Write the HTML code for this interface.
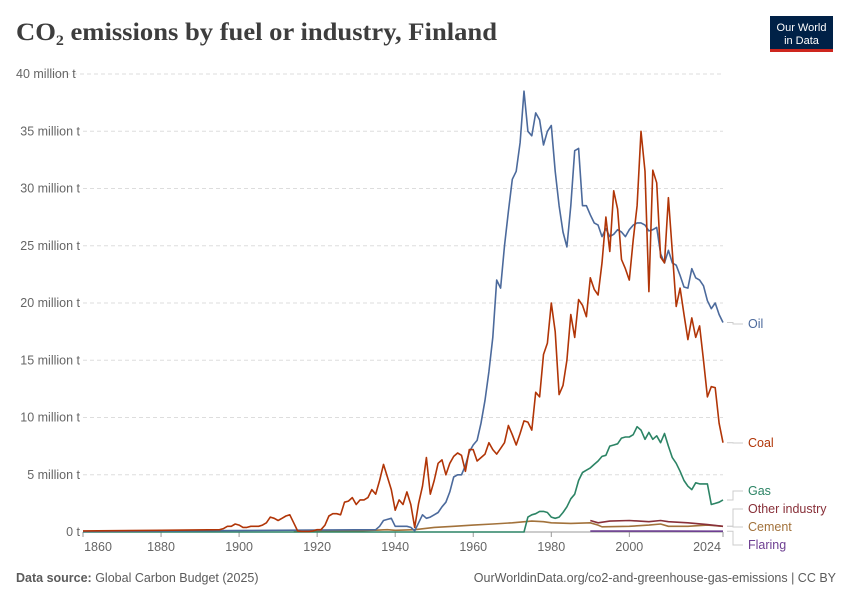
<!DOCTYPE html>
<html><head><meta charset="utf-8">
<style>
body{margin:0;background:#fff;width:850px;height:600px;overflow:hidden;font-family:"Liberation Sans",sans-serif;}
svg{display:block}
</style></head>
<body>
<svg id="chart" width="850" height="600">
<text x="16" y="40" font-family="Liberation Serif, serif" font-size="25" font-weight="bold" fill="#3d3d3d" textLength="481" lengthAdjust="spacingAndGlyphs">CO<tspan font-size="15" dy="5">2</tspan><tspan dy="-5"> emissions by fuel or industry, Finland</tspan></text>
<g>
<rect x="770" y="16" width="63" height="34" fill="#002147"/>
<rect x="770" y="49" width="63" height="3" fill="#ce261e"/>
<text x="801.5" y="31" text-anchor="middle" font-size="11" fill="#fff">Our World</text>
<text x="801.5" y="44" text-anchor="middle" font-size="11" fill="#fff">in Data</text>
</g>
<g id="grid"></g><g id="series"></g><g id="labels"></g>
<text x="16" y="582" font-size="12.5" fill="#5b5b5b"><tspan font-weight="bold">Data source:</tspan> Global Carbon Budget (2025)</text>
<text x="836" y="582" text-anchor="end" font-size="12.5" fill="#5b5b5b">OurWorldinData.org/co2-and-greenhouse-gas-emissions | CC BY</text>
</svg>
<script>
const yTicks=[0,5,10,15,20,25,30,35,40];
const yTickLabels=["0 t","5 million t","10 million t","15 million t","20 million t","25 million t","30 million t","35 million t","40 million t"];
const xTicks=[1860,1880,1900,1920,1940,1960,1980,2000,2024];
const oilYears=[1860,1935,1936,1937,1938,1939,1940,1941,1942,1943,1944,1945,1946,1947,1948,1949,1950,1951,1952,1953,1954,1955,1956,1957,1958,1959,1960,1961,1962,1963,1964,1965,1966,1967,1968,1969,1970,1971,1972,1973,1974,1975,1976,1977,1978,1979,1980,1981,1982,1983,1984,1985,1986,1987,1988,1989,1990,1991,1992,1993,1994,1995,1996,1997,1998,1999,2000,2001,2002,2003,2004,2005,2006,2007,2008,2009,2010,2011,2012,2013,2014,2015,2016,2017,2018,2019,2020,2021,2022,2023,2024];
const oilValues=[0.05,0.2,0.5,1.0,1.1,1.2,0.5,0.5,0.5,0.5,0.4,0.1,0.8,1.5,1.2,1.3,1.5,1.7,2.2,2.6,3.5,4.8,5.0,5.0,5.8,7.0,7.6,8.0,9.5,11.5,14,17,22,21.3,25,28,30.8,31.5,34,38.5,35,34.6,36.6,36,33.8,35,35.5,31.5,28.5,26.2,24.9,28.5,33.3,33.5,28.5,28.5,27.7,27,26.8,25.8,26.5,25.8,26.0,26.4,26.2,25.8,26.4,26.8,27.0,27.0,26.8,26.3,26.4,26.6,24.3,23.5,24.6,23.5,23.3,22.4,21.4,21.3,23.0,22.2,22.0,21.5,20.2,19.5,20.0,19.0,18.3];
const coalYears=[1860,1880,1895,1896,1897,1898,1899,1900,1901,1902,1903,1904,1905,1906,1907,1908,1909,1910,1911,1912,1913,1914,1915,1916,1917,1918,1919,1920,1921,1922,1923,1924,1925,1926,1927,1928,1929,1930,1931,1932,1933,1934,1935,1936,1937,1938,1939,1940,1941,1942,1943,1944,1945,1946,1947,1948,1949,1950,1951,1952,1953,1954,1955,1956,1957,1958,1959,1960,1961,1962,1963,1964,1965,1966,1967,1968,1969,1970,1971,1972,1973,1974,1975,1976,1977,1978,1979,1980,1981,1982,1983,1984,1985,1986,1987,1988,1989,1990,1991,1992,1993,1994,1995,1996,1997,1998,1999,2000,2001,2002,2003,2004,2005,2006,2007,2008,2009,2010,2011,2012,2013,2014,2015,2016,2017,2018,2019,2020,2021,2022,2023,2024];
const coalValues=[0.1,0.15,0.2,0.3,0.5,0.5,0.7,0.6,0.4,0.4,0.5,0.5,0.5,0.6,0.8,1.3,1.2,1.0,1.2,1.4,1.5,0.8,0.1,0.05,0.05,0.05,0.1,0.2,0.2,0.6,1.4,1.6,1.6,1.5,2.6,2.7,3.0,2.4,2.8,2.8,3.0,3.7,3.3,4.5,5.9,4.8,3.7,1.9,2.8,2.4,3.5,2.4,0.4,2.5,4.0,6.5,3.3,4.5,6.0,6.3,5.0,6.0,6.6,6.9,6.7,5.3,7.2,7.2,6.2,6.5,6.8,7.8,7.2,6.8,7.3,7.8,9.3,8.5,7.6,8.6,9.7,9.6,8.9,12.2,11.8,15.5,16.5,20.0,17.5,12.0,12.8,15.0,19.0,17.0,20.3,19.8,18.8,22.2,21.2,20.7,23.5,27.5,24.5,29.8,28.2,23.8,23.0,22.0,25.5,28.5,35.0,31.5,21.0,31.6,30.5,24.0,23.5,29.2,24.5,19.7,21.3,19.0,16.8,18.7,17.0,18.0,15.0,11.8,12.7,12.6,9.5,7.8];
const gasYears=[1860,1973,1974,1975,1976,1977,1978,1979,1980,1981,1982,1983,1984,1985,1986,1987,1988,1989,1990,1991,1992,1993,1994,1995,1996,1997,1998,1999,2000,2001,2002,2003,2004,2005,2006,2007,2008,2009,2010,2011,2012,2013,2014,2015,2016,2017,2018,2019,2020,2021,2022,2023,2024];
const gasValues=[0,0,1.3,1.5,1.6,1.8,1.8,1.7,1.3,1.2,1.3,1.7,2.2,2.9,3.3,4.5,5.2,5.4,5.6,5.9,6.2,6.6,6.7,7.5,7.6,7.7,8.2,8.3,8.3,8.5,9.2,8.9,8.1,8.7,8.1,8.4,7.8,8.6,7.5,6.5,6.0,5.3,4.5,4.0,3.7,4.3,4.2,4.2,4.2,2.4,2.5,2.6,2.8];
const cementYears=[1914,1920,1930,1938,1940,1945,1950,1955,1960,1965,1970,1975,1978,1980,1985,1990,1992,1993,2000,2005,2008,2010,2015,2020,2024];
const cementValues=[0.02,0.05,0.1,0.2,0.15,0.2,0.4,0.5,0.6,0.7,0.8,0.95,0.9,0.8,0.75,0.8,0.6,0.45,0.5,0.6,0.7,0.5,0.5,0.6,0.5];
const otherYears=[1990,1992,1995,2000,2005,2008,2010,2015,2020,2024];
const otherValues=[1.0,0.8,0.95,1.0,0.9,1.0,0.9,0.8,0.65,0.5];
const flaringYears=[1990,2000,2010,2020,2024];
const flaringValues=[0.08,0.08,0.08,0.07,0.07];
const x=y=>83+(y-1860)*(640/164);
const yS=v=>532-v*11.45;
const NS="http://www.w3.org/2000/svg";
const grid=document.getElementById('grid');
yTicks.forEach((t,i)=>{
  const l=document.createElementNS(NS,'line');
  
  
  l.setAttribute('x1',i==yTicks.length-1?52:83);l.setAttribute('x2',723);
  l.setAttribute('y1',yS(t));l.setAttribute('y2',yS(t));
  l.setAttribute('stroke',t==0?'#999':'#ddd');
  if(t!=0)l.setAttribute('stroke-dasharray','4,3');
  grid.appendChild(l);
  const tx=document.createElementNS(NS,'text');
  
  
  tx.setAttribute('x',t==40?16:80);tx.setAttribute('y',yS(t)+4);
  if(t!=40)tx.setAttribute('text-anchor','end');
  tx.setAttribute('font-size','12.5');tx.setAttribute('fill','#666');
  tx.textContent=yTickLabels[i];grid.appendChild(tx);
});
xTicks.forEach(t=>{
  const l=document.createElementNS(NS,'line');
  
  
  l.setAttribute('x1',x(t));l.setAttribute('x2',x(t));l.setAttribute('y1',532);l.setAttribute('y2',537);
  l.setAttribute('stroke','#999');grid.appendChild(l);
  const tx=document.createElementNS(NS,'text');
  
  
  let cx=x(t); if(t==1860)cx=98; if(t==2024)cx=707;
  tx.setAttribute('x',cx);tx.setAttribute('y',551);tx.setAttribute('text-anchor','middle');
  tx.setAttribute('font-size','12.5');tx.setAttribute('fill','#666');
  tx.textContent=t;grid.appendChild(tx);
});
const sg=document.getElementById('series');
function draw(name,ys,vs,color){
  const p=document.createElementNS(NS,'path');
  
  
  p.setAttribute('d',ys.map((yr,i)=>(i?'L':'M')+x(yr).toFixed(1)+','+yS(vs[i]).toFixed(1)).join(''));
  p.setAttribute('fill','none');p.setAttribute('stroke',color);p.setAttribute('stroke-width','1.6');
  p.setAttribute('stroke-linejoin','round');
  sg.appendChild(p);
}
draw('cement-line',cementYears,cementValues,'#a2723b');
draw('flaring-line',flaringYears,flaringValues,'#6d3e91');
draw('other-industry-line',otherYears,otherValues,'#883039');
draw('gas-line',gasYears,gasValues,'#2c8465');
draw('oil-line',oilYears,oilValues,'#4c6a9c');
draw('coal-line',coalYears,coalValues,'#b13507');
const lg=document.getElementById('labels');
const legend=[["Oil",324,'#4c6a9c',yS(18.3)],["Coal",443,'#b13507',yS(7.8)],["Gas",491,'#2c8465',yS(2.8)],["Other industry",509,'#883039',yS(0.5)],["Cement",527,'#a2723b',yS(0.5)],["Flaring",545,'#6d3e91',yS(0.07)]];
legend.forEach(([n,ly,c,sy])=>{
  const p=document.createElementNS(NS,'path');
  
  
  p.setAttribute('d',`M727,${sy}H733V${ly}H743`);
  p.setAttribute('fill','none');p.setAttribute('stroke','#ccc');
  lg.appendChild(p);
  const t=document.createElementNS(NS,'text');
  
  
  t.setAttribute('x',748);t.setAttribute('y',ly+4);t.setAttribute('font-size','12.5');t.setAttribute('fill',c);
  t.textContent=n;lg.appendChild(t);
});
</script>
</body></html>
